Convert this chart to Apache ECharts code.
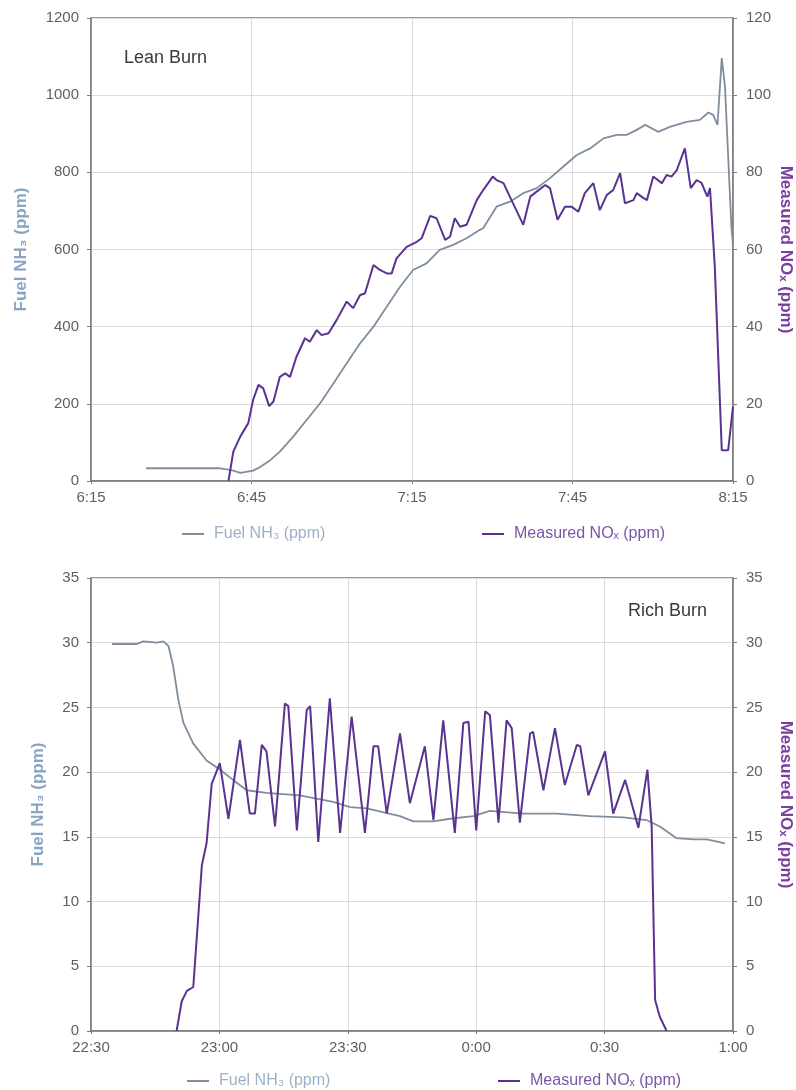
<!DOCTYPE html>
<html>
<head>
<meta charset="utf-8">
<title>Fuel NH3 and Measured NOx — Lean and Rich Burn</title>
<script src="https://cdn.jsdelivr.net/npm/echarts@6/dist/echarts.min.js"></script>
<style>
  html, body { margin: 0; padding: 0; background: #ffffff; }
  #chart { width: 796px; height: 1090px; }
</style>
</head>
<body>
<div id="chart"></div>
<script>
// Time is given in minutes after the start of each axis (6:15 and 22:30).
const LEAN_START = 6 * 60 + 15;
const RICH_START = 22 * 60 + 30;

const FUEL_NAME = 'Fuel NH\u2083 (ppm)';
const NOX_NAME = 'Measured NO\u2093 (ppm)';

// Lean burn: fuel NH3 (ppm, left axis)
const leanNh3 = [
  [10.3, 33], [20, 33], [24.1, 33], [26.3, 28], [27.9, 21], [30.3, 27], [31.6, 36],
  [33.5, 54], [35.3, 76], [37.8, 115], [40.3, 158], [42.8, 201], [45.3, 253],
  [47.8, 305], [50.3, 357], [52.8, 400], [55.3, 452], [57.8, 504], [60.2, 547],
  [62.7, 564], [65.2, 599], [67.7, 612], [70.2, 629], [72.7, 651], [73.3, 655],
  [75.8, 711], [78.3, 724], [80.8, 746], [83.3, 759], [85.8, 785], [88.3, 815],
  [90.8, 845], [93.3, 862], [95.8, 888], [98.3, 897], [100.1, 897], [102.0, 910],
  [103.6, 923], [106.0, 905], [108.2, 918], [111.3, 931], [113.8, 936], [115.4, 955],
  [116.3, 949], [117.1, 923], [117.9, 1096], [118.5, 1022], [119.7, 659], [120, 612]
];

// Lean burn: measured NOx (ppm, right axis)
const leanNox = [
  [25.7, 0], [26.6, 7.6], [27.9, 11.5], [29.4, 15.0], [30.3, 21.0], [31.3, 24.9],
  [32.2, 24.0], [33.3, 19.4], [34.1, 20.6], [35.3, 27.0], [36.3, 27.9], [37.2, 27.0],
  [38.4, 32.2], [40.0, 37.0], [40.9, 36.1], [42.2, 39.1], [43.1, 37.8], [44.4, 38.3],
  [45.9, 41.7], [47.8, 46.5], [49.0, 44.8], [50.3, 48.2], [51.2, 48.6], [52.8, 56.0],
  [54.0, 54.7], [55.3, 53.8], [56.2, 53.8], [57.1, 57.7], [59.0, 60.7], [60.9, 62.0],
  [61.8, 62.9], [63.4, 68.7], [64.6, 68.1], [66.2, 62.5], [67.1, 63.3], [68.0, 68.1],
  [69.0, 65.9], [70.2, 66.4], [72.1, 72.8], [73.3, 75.4], [75.1, 78.9], [75.8, 78.0],
  [77.1, 77.2], [78.6, 72.8], [80.8, 66.4], [82.1, 73.7], [83.3, 75.0], [84.9, 76.7],
  [85.8, 75.9], [87.2, 67.7], [88.6, 71.1], [89.8, 71.1], [91.1, 69.8], [92.3, 74.6],
  [93.9, 77.2], [95.1, 70.2], [96.4, 74.1], [97.6, 75.4], [98.9, 79.8], [99.8, 72.0],
  [101.4, 72.8], [102.0, 74.6], [103.3, 73.3], [103.9, 72.8], [105.1, 78.9], [106.7, 77.2],
  [107.6, 79.3], [108.5, 78.9], [109.5, 80.6], [111.0, 86.2], [112.1, 75.9], [113.2, 78.0],
  [114.1, 77.3], [115.2, 73.7], [115.7, 75.9], [116.6, 55.5], [117.9, 8.0], [119.1, 8.0],
  [120, 19.3]
];

// Rich burn: fuel NH3 (ppm, left axis)
const richNh3 = [
  [4.9, 29.9], [10.7, 29.9], [12.2, 30.1], [15.4, 30.0], [16.9, 30.1], [18.1, 29.75],
  [19.2, 28.2], [20.4, 25.6], [21.6, 23.8], [23.9, 22.2], [27.0, 20.9], [30.1, 20.2],
  [33.2, 19.4], [36.4, 18.6], [41.0, 18.4], [48.8, 18.2], [56.6, 17.7], [60.5, 17.3],
  [64.4, 17.2], [72.2, 16.6], [75.3, 16.2], [80.0, 16.2], [83.9, 16.4], [89.3, 16.6],
  [93.2, 17.0], [101.0, 16.8], [108.8, 16.8], [116.6, 16.6], [124.4, 16.5], [129.8, 16.3],
  [132.9, 15.8], [136.8, 14.9], [140.7, 14.8], [143.9, 14.8], [148.1, 14.5]
];

// Rich burn: measured NOx (ppm, right axis)
const richNox = [
  [20.0, 0], [21.2, 2.3], [22.4, 3.1], [23.9, 3.4], [25.9, 12.8], [27.0, 14.5],
  [28.2, 19.1], [30.1, 20.7], [32.1, 16.4], [34.8, 22.5], [37.1, 16.8], [38.3, 16.8],
  [39.9, 22.1], [41.0, 21.6], [43.0, 15.8], [45.3, 25.3], [46.1, 25.1], [48.1, 15.5],
  [50.4, 24.8], [51.2, 25.1], [53.1, 14.6], [55.8, 25.7], [58.2, 15.3], [60.9, 24.3],
  [64.0, 15.3], [66.0, 22.0], [67.1, 22.0], [69.1, 16.8], [72.2, 23.0], [74.5, 17.6],
  [78.0, 22.0], [80.0, 16.3], [82.3, 24.0], [85.0, 15.3], [87.0, 23.8], [88.2, 23.9],
  [90.0, 15.5], [92.1, 24.7], [93.2, 24.4], [95.2, 16.1], [97.1, 24.0], [98.3, 23.4],
  [100.2, 16.1], [102.6, 23.0], [103.3, 23.1], [105.7, 18.6], [108.4, 23.4], [110.7, 19.0],
  [113.5, 22.1], [114.3, 22.0], [116.2, 18.2], [120.1, 21.6], [122.0, 16.8], [124.8, 19.4],
  [127.9, 15.7], [130.0, 20.2], [131.0, 15.8], [131.8, 2.4], [132.9, 1.1], [134.5, 0]
];

// Axis ranges and tick steps
const leanLeftAxis = { min: 0, max: 1200, interval: 200 };
const leanRightAxis = { min: 0, max: 120, interval: 20 };
const richLeftAxis = { min: 0, max: 35, interval: 5 };
const richRightAxis = { min: 0, max: 35, interval: 5 };
const leanTimeAxis = { min: 0, max: 120, interval: 30 };
const richTimeAxis = { min: 0, max: 150, interval: 30 };

const FONT = '"Liberation Sans", Arial, Helvetica, sans-serif';
const FUEL_COLOR = '#7f8e9d';
const NOX_COLOR = '#5a3391';
const AXIS_COLOR = '#7a7a7a';
const GRID_COLOR = '#dcdcdc';
const TICK_TEXT = '#5f5f5f';

function clockLabel(start) {
  return function (v) {
    const total = (start + v) % (24 * 60);
    const h = Math.floor(total / 60);
    const m = total % 60;
    return h + ':' + (m < 10 ? '0' + m : m);
  };
}

function timeAxis(gridIndex, range, start) {
  return {
    type: 'value', gridIndex: gridIndex,
    min: range.min, max: range.max, interval: range.interval,
    axisLine: { show: true, onZero: false, lineStyle: { color: AXIS_COLOR, width: 1.5 } },
    axisTick: { show: true, length: 3, inside: false, lineStyle: { color: AXIS_COLOR } },
    axisLabel: { formatter: clockLabel(start), color: TICK_TEXT, fontSize: 15, fontFamily: FONT, margin: 9 },
    splitLine: { show: true, lineStyle: { color: GRID_COLOR, width: 1 } }
  };
}

function valueAxis(gridIndex, range, position, name, nameGap) {
  const left = position === 'left';
  return {
    type: 'value', gridIndex: gridIndex, position: position,
    min: range.min, max: range.max, interval: range.interval,
    name: name, nameLocation: 'middle',
    nameGap: nameGap,
    nameMoveOverlap: false,
    nameRotate: left ? 90 : -90,
    nameTextStyle: {
      color: left ? '#89a3c2' : '#7a3e9f',
      fontSize: 17, fontWeight: 'bold', fontFamily: FONT
    },
    axisLine: { show: true, lineStyle: { color: AXIS_COLOR, width: 1.5 } },
    axisTick: { show: true, length: 4, lineStyle: { color: AXIS_COLOR } },
    axisLabel: {
      formatter: function (v) { return String(v); },
      color: TICK_TEXT, fontSize: 15, fontFamily: FONT, margin: left ? 12 : 13
    },
    splitLine: { show: left, lineStyle: { color: GRID_COLOR, width: 1 } }
  };
}

function legendItem(name, left, top, color) {
  return {
    left: left, top: top, orient: 'horizontal',
    icon: 'rect', itemWidth: 22, itemHeight: 2, itemGap: 10,
    selectedMode: false,
    data: [{ name: name, textStyle: { color: color } }],
    textStyle: { fontSize: 16, fontFamily: FONT, padding: [0, 0, 0, 5] }
  };
}

function lineSeries(name, data, xi, yi, color, width) {
  return {
    name: name, type: 'line', data: data,
    xAxisIndex: xi, yAxisIndex: yi,
    showSymbol: false, symbol: 'none', smooth: false,
    lineStyle: { color: color, width: width },
    itemStyle: { color: color },
    emphasis: { disabled: true }
  };
}

function plotGrid(top, height) {
  return {
    left: 91, top: top, width: 642, height: height,
    containLabel: false, outerBoundsMode: 'none',
    show: true, borderColor: AXIS_COLOR, borderWidth: 1.5, backgroundColor: 'transparent'
  };
}

const chart = echarts.init(document.getElementById('chart'), null, { renderer: 'canvas' });

chart.setOption({
  animation: false,
  backgroundColor: '#ffffff',
  grid: [plotGrid(18, 463), plotGrid(578, 453)],
  xAxis: [
    timeAxis(0, leanTimeAxis, LEAN_START),
    timeAxis(1, richTimeAxis, RICH_START)
  ],
  yAxis: [
    valueAxis(0, leanLeftAxis, 'left', FUEL_NAME, 61),
    valueAxis(0, leanRightAxis, 'right', NOX_NAME, 44),
    valueAxis(1, richLeftAxis, 'left', FUEL_NAME, 44),
    valueAxis(1, richRightAxis, 'right', NOX_NAME, 44)
  ],
  legend: [
    legendItem(FUEL_NAME, 177, 521, '#9cb0c7'),
    legendItem(NOX_NAME, 477, 521, '#7b55a8'),
    legendItem(FUEL_NAME, 182, 1068, '#9cb0c7'),
    legendItem(NOX_NAME, 493, 1068, '#7b55a8')
  ],
  graphic: [
    { type: 'text', left: 124, top: 49, style: { text: 'Lean Burn', fill: '#3a3a3a', font: '18px ' + FONT } },
    { type: 'text', left: 628, top: 602, style: { text: 'Rich Burn', fill: '#3a3a3a', font: '18px ' + FONT } }
  ],
  series: [
    lineSeries(FUEL_NAME, leanNh3, 0, 0, FUEL_COLOR, 1.8),
    lineSeries(NOX_NAME, leanNox, 0, 1, NOX_COLOR, 2),
    lineSeries(FUEL_NAME, richNh3, 1, 2, FUEL_COLOR, 1.8),
    lineSeries(NOX_NAME, richNox, 1, 3, NOX_COLOR, 2)
  ]
});
</script>
</body>
</html>
